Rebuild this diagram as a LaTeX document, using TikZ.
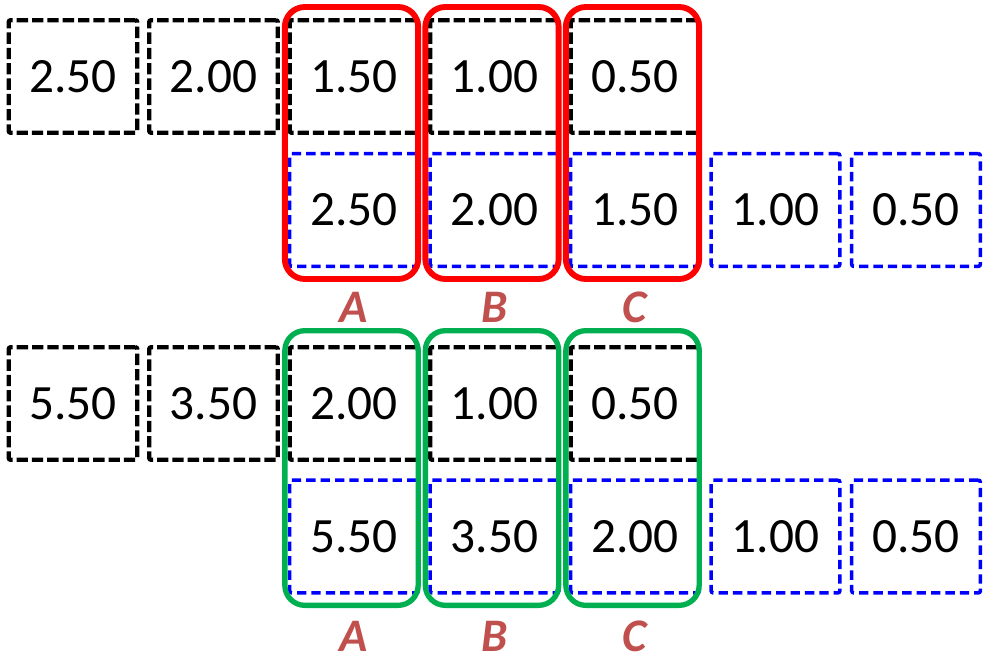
\documentclass[tikz,border=0pt]{standalone}
\usepackage{fontspec}
\setmainfont{Carlito}
\definecolor{framegreen}{HTML}{00B050}
\definecolor{labelred}{HTML}{C0504D}
\newcommand{\valrow}[4]{\foreach \c/\v in {#4}
        \node[#1] (#2\c) at ({73+140.5*(\c-1)},#3) {\v};
    }
\newcommand{\colframe}[4]{\node[#1] (#2) at ({351.5+140.5*(#3-3)},#4) {};}
\newcommand{\collabel}[3]{\node[lbl] (#1) at ({354+140.5*(#2-3)},#3) {#1};}

\begin{document}
\begin{tikzpicture}
                [x=0.75pt,y=-0.75pt,
                oldbox/.style={rectangle,draw=black,line width=3.2pt,dash pattern=on 8.5pt off 3pt,rounded corners=1.5pt,
                    minimum width=96.5pt,minimum height=84.5pt,inner sep=0pt,font=\fontsize{37}{40}\selectfont},
                newbox/.style={oldbox,draw=blue,line width=2.7pt,dash pattern=on 7pt off 3.8pt},
                redframe/.style={rectangle,draw=red,line width=4.4pt,rounded corners=15pt,minimum width=100pt,minimum height=204pt},
                greenframe/.style={redframe,draw=framegreen,line width=4pt,minimum height=206pt},
                lbl/.style={text=labelred,inner sep=0pt,font=\fontsize{35}{38}\selectfont\bfseries\itshape},
                ]
                \useasboundingbox (0,0) rectangle (985,661);
                % first step
                \valrow{oldbox}{t}{76.5}{1/2.50,2/2.00,3/1.50,4/1.00,5/0.50}
                \valrow{newbox}{u}{210}{3/2.50,4/2.00,5/1.50,6/1.00,7/0.50}
                \colframe{redframe}{rA}{3}{143}
                \colframe{redframe}{rB}{4}{143}
                \colframe{redframe}{rC}{5}{143}
                \collabel{A}{3}{307}	\collabel{B}{4}{307}	\collabel{C}{5}{307}
                % second step
                \valrow{oldbox}{v}{403.5}{1/5.50,2/3.50,3/2.00,4/1.00,5/0.50}
                \valrow{newbox}{w}{536.5}{3/5.50,4/3.50,5/2.00,6/1.00,7/0.50}
                \colframe{greenframe}{gA}{3}{468}
                \colframe{greenframe}{gB}{4}{468}
                \colframe{greenframe}{gC}{5}{468}
                \node[lbl] (A2) at (354,636) {A};
                \node[lbl] (B2) at (494.5,636) {B};
                \node[lbl] (C2) at (635,636) {C};
            \end{tikzpicture}
\end{document}
